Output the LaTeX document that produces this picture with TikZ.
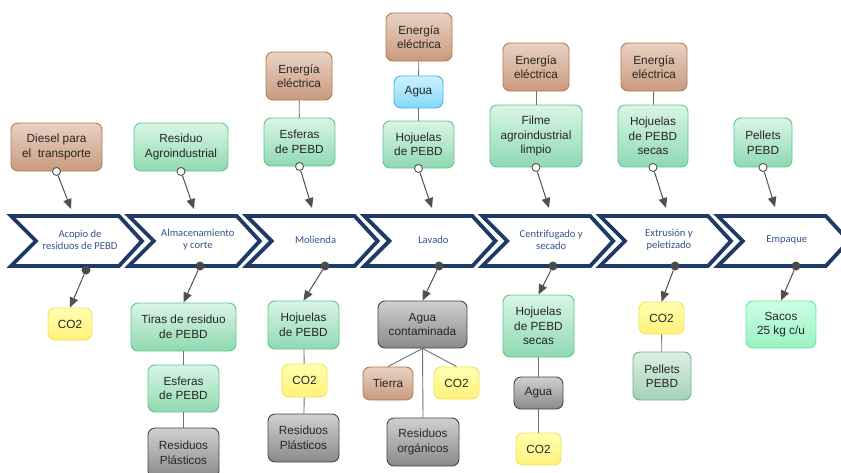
\documentclass[tikz,border=0pt]{standalone}
\usepackage{fontspec}
\setmainfont{Liberation Sans}
\newfontfamily\chevfont{Carlito}
\usetikzlibrary{arrows.meta}
\definecolor{navy}{HTML}{1F3A68}
\definecolor{chtxt}{HTML}{35558C}
\definecolor{txt}{HTML}{262626}
\definecolor{lnc}{HTML}{707070}
\definecolor{arc}{HTML}{505050}
\definecolor{brD}{HTML}{B07A55}\definecolor{brT}{HTML}{E9D2C3}\definecolor{brB}{HTML}{C99A7E}
\definecolor{grD}{HTML}{5CC98C}\definecolor{grT}{HTML}{DAF5E6}\definecolor{grB}{HTML}{8FD9B1}
\definecolor{yeD}{HTML}{F2E35A}\definecolor{yeT}{HTML}{FFFFB0}\definecolor{yeB}{HTML}{FFF27A}
\definecolor{gyD}{HTML}{454545}\definecolor{gyT}{HTML}{D0D0D0}\definecolor{gyB}{HTML}{8A8A8A}
\definecolor{blD}{HTML}{45B4E6}\definecolor{blT}{HTML}{CDF2FF}\definecolor{blB}{HTML}{86D6F7}
\definecolor{mnD}{HTML}{62E6A2}\definecolor{mnT}{HTML}{CDFFE4}\definecolor{mnB}{HTML}{99F2C2}
\definecolor{peD}{HTML}{6CB38C}\definecolor{peT}{HTML}{DCF0E3}\definecolor{peB}{HTML}{A3D2B5}
\definecolor{dotc}{HTML}{4A4A4A}
\tikzset{
  bx/.style={rounded corners=7pt, draw, line width=0.9pt, inner sep=0pt, align=center, text=txt,
    font=\fontsize{11.8}{14.5}\selectfont},
  sz/.style 2 args={minimum width=#1pt, minimum height=#2pt},
  bbrown/.style={draw=brD, top color=brT, bottom color=brB},
  bgreen/.style={draw=grD, top color=grT, bottom color=grB},
  byellow/.style={draw=yeD, top color=yeT, bottom color=yeB},
  bgray/.style={draw=gyD, top color=gyT, bottom color=gyB},
  bblue/.style={draw=blD, top color=blT, bottom color=blB},
  bmint/.style={draw=mnD, top color=mnT, bottom color=mnB},
  bpellet/.style={draw=peD, top color=peT, bottom color=peB},
  circ/.style={circle, draw=arc, fill=white, line width=0.9pt, inner sep=0pt, minimum size=8pt},
  dotn/.style={circle, fill=dotc, inner sep=0pt, minimum size=9pt},
  arr/.style={draw=arc, line width=1pt, -{Triangle[length=10pt,width=8.5pt]}},
  lnk/.style={draw=lnc, line width=0.9pt},
  chv/.style={draw=navy, fill=white, line width=3.8pt, line join=miter},
  chl/.style={text=chtxt, align=center, font=\chevfont\fontsize{10.6}{12}\selectfont},
}
\begin{document}
\begin{tikzpicture}[x=1pt,y=-1pt]
\useasboundingbox (0,0) rectangle (841,472);
% chevrons
\foreach \i/\t in {0/{Acopio de\\residuos de PEBD},1/{Almacenamiento\\y corte},2/{Molienda},3/{Lavado},4/{Centrifugado y\\secado},5/{Extrusión y\\peletizado},6/{Empaque}}{
  \pgfmathsetmacro\L{9+117.8*\i}
  \draw[chv] ({\L+2},216) -- ({\L+110},216) -- ({\L+133},241) -- ({\L+110},266) -- ({\L+2},266) -- ({\L+27},241) -- cycle;
  \node[chl] (ch\i) at ({\L+71},240) {\t};
}
% top boxes
\node[bx,bbrown,sz={91}{48}] (diesel) at (56.5,147) {Diesel para\\el\ \ transporte};
\node[bx,bgreen,sz={94}{48}] (residuo) at (181,147) {Residuo\\Agroindustrial};
\node[bx,bbrown,sz={66}{48}] (ee1) at (299,76) {Energía\\eléctrica};
\node[bx,bgreen,sz={71}{48}] (esf1) at (299.5,142) {Esferas\\de PEBD};
\node[bx,bbrown,sz={66}{48}] (ee2) at (419,37) {Energía\\eléctrica};
\node[bx,bblue,sz={49}{32}] (agua1) at (418.5,92) {Agua};
\node[bx,bgreen,sz={71}{47}] (hoj1) at (418.5,144.5) {Hojuelas\\de PEBD};
\node[bx,bbrown,sz={66}{48}] (ee3) at (536,67) {Energía\\eléctrica};
\node[bx,bgreen,sz={92}{62}] (filme) at (536,136) {Filme\\agroindustrial\\limpio};
\node[bx,bbrown,sz={66}{48}] (ee4) at (654,67) {Energía\\eléctrica};
\node[bx,bgreen,sz={70}{62}] (hojsec1) at (653,136) {Hojuelas\\de PEBD\\secas};
\node[bx,bgreen,sz={58}{49}] (pel1) at (763,142.5) {Pellets\\PEBD};
% links top
\draw[lnk] (ee1) -- (esf1);
\draw[lnk] (ee2) -- (agua1);
\draw[lnk] (agua1) -- (hoj1);
\draw[lnk] (ee3) -- (filme);
\draw[lnk] (ee4) -- (hojsec1);
% top arrows
\node[circ] (o1) at (diesel.south) {};
\node[circ] (o2) at (residuo.south) {};
\node[circ] (o3) at (esf1.south) {};
\node[circ] (o4) at (hoj1.south) {};
\node[circ] (o5) at (filme.south) {};
\node[circ] (o6) at (hojsec1.south) {};
\node[circ] (o7) at (pel1.south) {};
\coordinate (e1) at (71,209);
\coordinate (e2) at (194,209);
\coordinate (e3) at (312,208);
\coordinate (e4) at (432,208);
\coordinate (e5) at (549,208);
\coordinate (e6) at (666,208);
\coordinate (e7) at (775,207);
\foreach \k in {1,...,7}{\draw[arr] (o\k) -- (e\k);}
% bottom boxes
\node[bx,byellow,sz={44}{32}] (co2a) at (70,324) {CO2};
\node[bx,bgreen,sz={105}{48}] (tiras) at (183.5,327) {Tiras de residuo\\de PEBD};
\node[bx,bgreen,sz={71}{47}] (esf2) at (183.5,388.5) {Esferas\\de PEBD};
\node[bx,bgray,sz={71}{50}] (rp1) at (183.5,453) {Residuos\\Plásticos};
\node[bx,bgreen,sz={71}{48}] (hoj2) at (303.5,325) {Hojuelas\\de PEBD};
\node[bx,byellow,sz={45}{33}] (co2b) at (304.5,380.5) {CO2};
\node[bx,bgray,sz={71}{48}] (rp2) at (303.5,438) {Residuos\\Plásticos};
\node[bx,bgray,sz={89}{47}] (aguac) at (422.5,324.5) {Agua\\contaminada};
\node[bx,bbrown,sz={50}{33}] (tierra) at (388,383.5) {Tierra};
\node[bx,byellow,sz={45}{32}] (co2c) at (456.5,383) {CO2};
\node[bx,bgray,sz={72}{48}] (resorg) at (423,442) {Residuos\\orgánicos};
\node[bx,bgreen,sz={71}{62}] (hojsec2) at (538.5,326) {Hojuelas\\de PEBD\\secas};
\node[bx,bgray,sz={49}{32}] (agua2) at (538.5,393) {Agua};
\node[bx,byellow,sz={45}{32}] (co2d) at (538.5,449) {CO2};
\node[bx,byellow,sz={45}{32}] (co2e) at (661.5,318) {CO2};
\node[bx,bpellet,sz={58}{48}] (pel2) at (662,376) {Pellets\\PEBD};
\node[bx,bmint,sz={70}{47}] (sacos) at (781,324.5) {Sacos\\25 kg c/u};
% links bottom
\draw[lnk] (tiras) -- (esf2);
\draw[lnk] (esf2) -- (rp1);
\draw[lnk] (hoj2) -- (co2b);
\draw[lnk] (co2b) -- (rp2);
\draw[lnk] (aguac.south) -- (tierra.north);
\draw[lnk] (aguac.south) -- (co2c.north);
\draw[lnk] (aguac.south) -- (resorg.north);
\draw[lnk] (hojsec2) -- (agua2);
\draw[lnk] (agua2) -- (co2d);
\draw[lnk] (co2e) -- (pel2);
% bottom dots and arrows
\node[dotn] (d1) at (86,270) {};
\node[dotn] (d2) at (200,266) {};
\node[dotn] (d3) at (325,266) {};
\node[dotn] (d4) at (439,266) {};
\node[dotn] (d5) at (553,266) {};
\node[dotn] (d6) at (675,266) {};
\node[dotn] (d7) at (796,266) {};
\draw[arr] (d1) -- (co2a.north);
\draw[arr] (d2) -- (tiras.north);
\draw[arr] (d3) -- (hoj2.north);
\draw[arr] (d4) -- (aguac.north);
\draw[arr] (d5) -- (hojsec2.north);
\draw[arr] (d6) -- (co2e.north);
\draw[arr] (d7) -- (sacos.north);
\end{tikzpicture}
\end{document}
